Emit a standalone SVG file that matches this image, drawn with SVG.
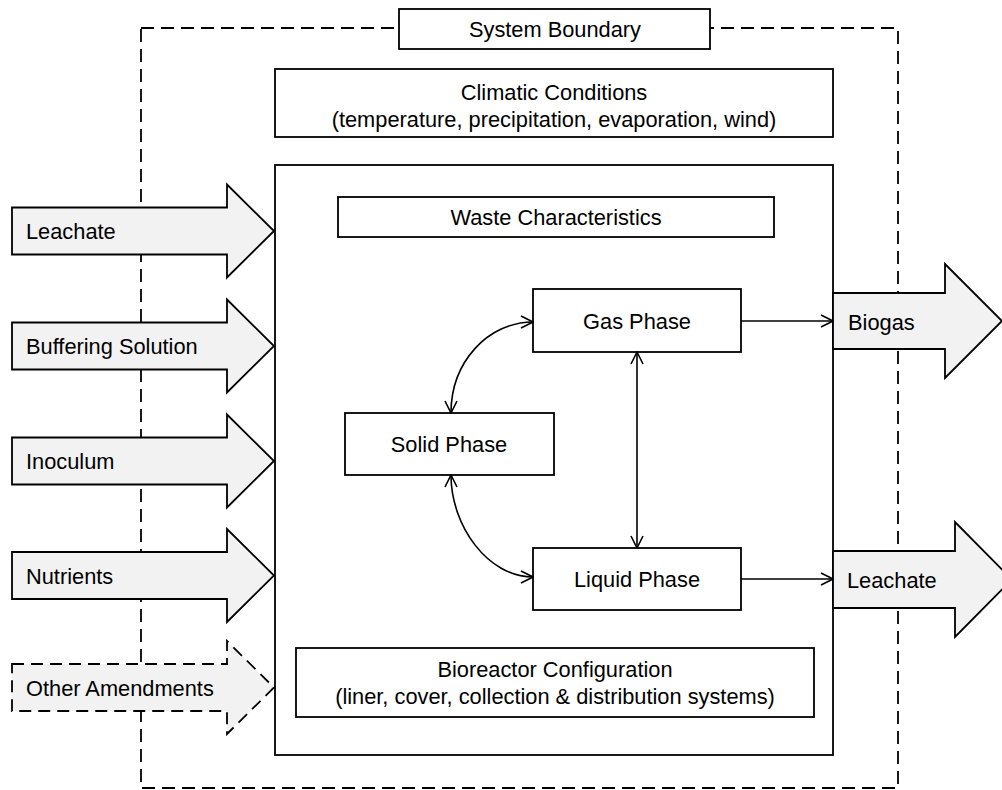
<svg xmlns="http://www.w3.org/2000/svg" width="1002" height="790" viewBox="0 0 1002 790">
  <style>
    text { font-family: "Liberation Sans", Arial, sans-serif; font-size: 21.8px; fill: #000; }
    .box { fill: #fff; stroke: #000; stroke-width: 1.8; }
    .flow { fill: #f2f2f2; stroke: #000; stroke-width: 1.8; stroke-linejoin: miter; }
    .flow-dash { fill: #f2f2f2; stroke: #000; stroke-width: 1.8; stroke-dasharray: 12 7; }
    .boundary { fill: none; stroke: #000; stroke-width: 1.8; stroke-dasharray: 13 7; }
    .link { fill: none; stroke: #000; stroke-width: 1.6; }
    .c { text-anchor: middle; }
  </style>
  <defs>
    <marker id="head" viewBox="0 0 14 14" markerWidth="14" markerHeight="14" refX="13" refY="7" orient="auto-start-reverse" markerUnits="userSpaceOnUse">
      <path d="M1,1 L13,7 L1,13" fill="none" stroke="#000" stroke-width="1.6"/>
    </marker>
  </defs>

  <rect width="1002" height="790" fill="#fff"/>

  <!-- system boundary (dashed frame) -->
  <rect class="boundary" x="141" y="28" width="757" height="760"/>
  <g id="system-boundary">
    <rect class="box" x="399" y="9" width="311" height="40"/>
    <text class="c" x="555" y="37">System Boundary</text>
  </g>

  <g id="climatic-conditions">
    <rect class="box" x="275" y="69" width="558" height="68"/>
    <text class="c" x="554" y="100">Climatic Conditions</text>
    <text class="c" x="554" y="127">(temperature, precipitation, evaporation, wind)</text>
  </g>

  <!-- bioreactor body -->
  <g id="bioreactor">
    <rect class="box" x="275" y="165" width="558" height="590"/>
  </g>

  <g id="waste-characteristics">
    <rect class="box" x="338" y="197" width="436" height="40"/>
    <text class="c" x="556" y="225">Waste Characteristics</text>
  </g>

  <g id="gas-phase">
    <rect class="box" x="533" y="289" width="208" height="63"/>
    <text class="c" x="637" y="329">Gas Phase</text>
  </g>

  <g id="solid-phase">
    <rect class="box" x="345" y="413" width="209" height="62"/>
    <text class="c" x="449" y="452">Solid Phase</text>
  </g>

  <g id="liquid-phase">
    <rect class="box" x="533" y="548" width="208" height="62"/>
    <text class="c" x="637" y="587">Liquid Phase</text>
  </g>

  <g id="bioreactor-configuration">
    <rect class="box" x="296" y="648" width="518" height="69"/>
    <text class="c" x="555" y="677">Bioreactor Configuration</text>
    <text class="c" x="555" y="704">(liner, cover, collection &amp; distribution systems)</text>
  </g>

  <!-- inputs -->
  <g id="in-leachate">
    <path class="flow" d="M12,207.5 H227 V184.5 L274,231 L227,277.5 V254.5 H12 Z"/>
    <text x="26" y="239">Leachate</text>
  </g>
  <g id="in-buffering">
    <path class="flow" d="M12,322.5 H227 V299.5 L274,346 L227,392.5 V369.5 H12 Z"/>
    <text x="26" y="354">Buffering Solution</text>
  </g>
  <g id="in-inoculum">
    <path class="flow" d="M12,437.5 H227 V414.5 L274,461 L227,507.5 V484.5 H12 Z"/>
    <text x="26" y="469">Inoculum</text>
  </g>
  <g id="in-nutrients">
    <path class="flow" d="M12,552 H227 V529 L274,575.5 L227,622 V599 H12 Z"/>
    <text x="26" y="583.5">Nutrients</text>
  </g>
  <g id="in-other">
    <path class="flow-dash" d="M12,664 H227 V641 L274,687.5 L227,734 V711 H12 Z"/>
    <text x="26" y="695.5">Other Amendments</text>
  </g>

  <!-- outputs -->
  <g id="out-biogas">
    <path class="flow" d="M833,293 H945 V264 L1002,321 L945,378 V349 H833 Z"/>
    <text x="848" y="330">Biogas</text>
  </g>
  <g id="out-leachate">
    <path class="flow" d="M833,551 H955 V522 L1012,579.5 L955,637 V608 H833 Z"/>
    <text x="847" y="588">Leachate</text>
  </g>

  <!-- connectors -->
  <g id="connectors">
    <path class="link" d="M451,413 C451,362 488,322 533,322" marker-start="url(#head)" marker-end="url(#head)"/>
    <path class="link" d="M451,475 C451,526 488,577 533,577" marker-start="url(#head)" marker-end="url(#head)"/>
    <path class="link" d="M637,352 V548" marker-start="url(#head)" marker-end="url(#head)"/>
    <path class="link" d="M741,321 H833" marker-end="url(#head)"/>
    <path class="link" d="M741,579 H833" marker-end="url(#head)"/>
  </g>
</svg>
